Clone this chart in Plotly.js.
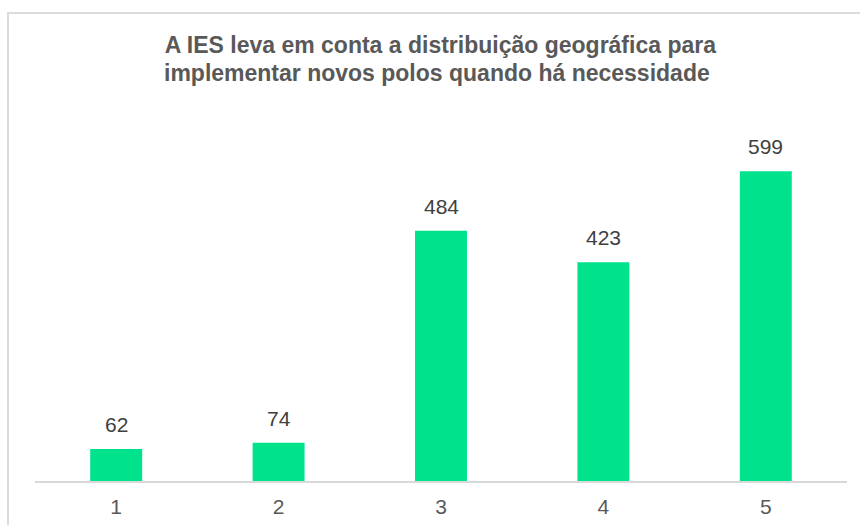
<!DOCTYPE html>
<html>
<head>
<meta charset="utf-8">
<script src="https://cdn.plot.ly/plotly-3.0.1.min.js"></script>
<style>
  html, body { margin: 0; padding: 0; background: #fff; }
  #frame { position: absolute; left: 7px; top: 12px; width: 870px; height: 540px; border: 2px solid #dcdcdc; box-sizing: border-box; }
  #chart { position: absolute; left: 0; top: 0; width: 860px; height: 525px; }
</style>
</head>
<body>
<div id="frame"></div>
<div id="chart"></div>
<script>
const categories = ["1", "2", "3", "4", "5"];
const values = [62, 74, 484, 423, 599];
const titleLine1 = "A IES leva em conta a distribuição geográfica para";
const titleLine2 = "implementar novos polos quando há necessidade";

const FONT = "Liberation Sans, Arial, sans-serif";

const trace = {
  type: "bar",
  x: categories,
  y: values,
  marker: { color: "#00E38C" },
  hoverinfo: "x+y"
};

const annotations = categories.map((c, i) => ({
  x: i, y: values[i], xref: "x", yref: "y",
  text: String(values[i]), showarrow: false,
  yanchor: "bottom", yshift: 11,
  font: { family: FONT, size: 21, color: "#404040" }
}));

annotations.push({
  x: 0.495, y: 1.1271, xref: "paper", yref: "paper",
  xanchor: "center", yanchor: "middle", showarrow: false,
  text: titleLine2,
  font: { family: FONT, size: 23, color: "#595959", weight: "bold" }
});

const layout = {
  width: 860, height: 525,
  paper_bgcolor: "rgba(0,0,0,0)",
  plot_bgcolor: "rgba(0,0,0,0)",
  margin: { l: 35, r: 13, t: 119, b: 44 },
  bargap: 0.68,
  showlegend: false,
  title: {
    text: titleLine1,
    x: 0.512, xanchor: "center",
    y: 1 - 45 / 525, yanchor: "middle", yref: "container",
    font: { family: FONT, size: 23, color: "#595959", weight: "bold" }
  },
  xaxis: {
    type: "category",
    range: [-0.5, 4.5],
    showline: true, linecolor: "#d9d9d9", linewidth: 1.5,
    showgrid: false, zeroline: false, ticks: "",
    tickfont: { family: FONT, size: 21, color: "#595959" },
    ticklabelstandoff: 6
  },
  yaxis: {
    range: [0, 700], visible: false, showgrid: false, zeroline: false
  },
  annotations: annotations
};

Plotly.newPlot("chart", [trace], layout, { displayModeBar: false, staticPlot: true });
</script>
</body>
</html>
